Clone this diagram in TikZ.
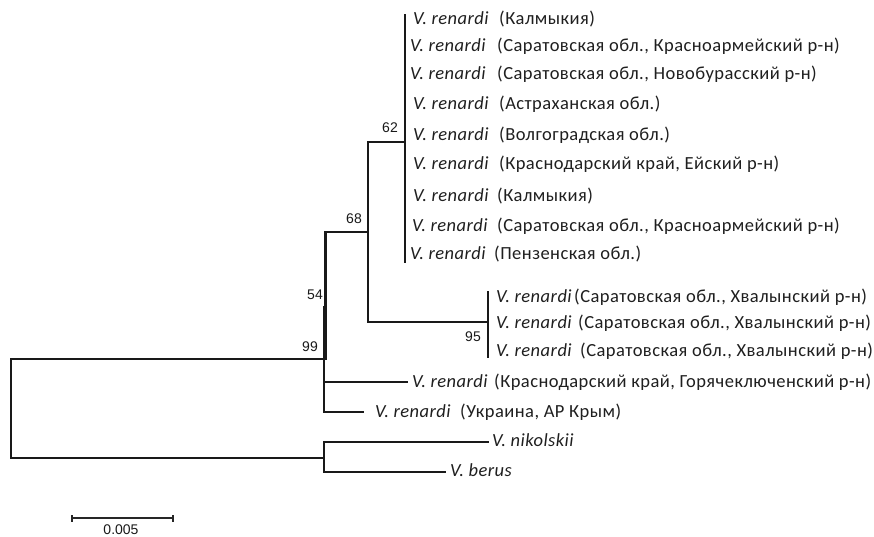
\documentclass[tikz,border=0pt]{standalone}
\usepackage{fontspec}
\setmainfont{Carlito}[LetterSpace=2.5]
\newfontfamily\numfont{Liberation Sans}
\begin{document}
\begin{tikzpicture}[x=1pt,y=-1pt,
  branch/.style={line width=2.7pt,line cap=rect,black!90},
  taxon/.style={anchor=base west,inner sep=0pt,text=black!88,font=\fontsize{18.5}{22}\selectfont},
  boot/.style={inner sep=0pt,text=black!90,font=\numfont\fontsize{14}{16}\selectfont},
  scalebar/.style={line width=1.4pt,black!85}]
\useasboundingbox[fill=white] (0,0) rectangle (874,537);

% leaf labels: id, centre y, x of name, x of locality, locality
\newcommand\leaf[5]{%
  \node[taxon] (#1n) at (#3,#2+5.5) {\itshape V. renardi};
  \node[taxon] (#1p) at (#4,#2+5.5) {(#5)};}
\leaf{a}{19}{413}{499}{Калмыкия}
\leaf{b}{46}{410}{497}{Саратовская обл., Красноармейский р-н}
\leaf{c}{74}{410}{497}{Саратовская обл., Новобурасский р-н}
\leaf{d}{104}{413}{499}{Астраханская обл.}
\leaf{e}{135}{413}{499}{Волгоградская обл.}
\leaf{f}{164}{413}{499}{Краснодарский край, Ейский р-н}
\leaf{g}{196}{413}{497}{Калмыкия}
\leaf{h}{226}{412}{497}{Саратовская обл., Красноармейский р-н}
\leaf{i}{254}{410}{494}{Пензенская обл.}
\leaf{j}{297}{496}{574}{Саратовская обл., Хвалынский р-н}
\leaf{k}{323}{496}{578}{Саратовская обл., Хвалынский р-н}
\leaf{l}{351}{496}{580}{Саратовская обл., Хвалынский р-н}
\leaf{m}{382}{412}{494}{Краснодарский край, Горячеключенский р-н}
\leaf{n}{412}{375}{460}{Украина, АР Крым}
\node[taxon] (nik) at (492,441+5.5) {\itshape V. nikolskii};
\node[taxon] (ber) at (450,471+5.5) {\itshape V. berus};

% internal nodes
\coordinate (R) at (11,408);
\coordinate (A) at (324,359);
\coordinate (Atop) at (324,307);
\coordinate (Abot) at (324,412);
\coordinate (Amid) at (324,382);
\coordinate (B) at (325.5,232);
\coordinate (Bbot) at (325.5,359);
\coordinate (C) at (368,232);
\coordinate (Ctop) at (368,142);
\coordinate (Cbot) at (368,322);
\coordinate (D) at (405,142);
\coordinate (Dtop) at (405,15);
\coordinate (Dbot) at (405,262);
\coordinate (E) at (488,322);
\coordinate (Etop) at (488,292);
\coordinate (Ebot) at (488,357);
\coordinate (F) at (324,458);
\coordinate (Ftop) at (324,442);
\coordinate (Fbot) at (324,472);

% branches
\draw[branch] (A) -- (A -| R) -- (F -| R) -- (F);
\draw[branch] (Atop) -- (Abot);
\draw[branch] (B) -- (Bbot);
\draw[branch] (B) -- (C);
\draw[branch] (Ctop) -- (Cbot);
\draw[branch] (Ctop) -- (D);
\draw[branch] (Dtop) -- (Dbot);
\draw[branch] (Cbot) -- (E);
\draw[branch] (Etop) -- (Ebot);
\draw[branch] (Amid) -- ([xshift=-5pt]mn.west |- Amid);
\draw[branch] (Abot) -- ([xshift=-12pt]nn.west |- Abot);
\draw[branch] (Ftop) -- (Fbot);
\draw[branch] (Ftop) -- ([xshift=-4pt]nik.west |- Ftop);
\draw[branch] (Fbot) -- ([xshift=-5pt]ber.west |- Fbot);

% bootstrap values
\node[boot,anchor=east] (b62) at (398,128) {62};
\node[boot] (b68) at (354,219) {68};
\node[boot,anchor=east] (b54) at (323,295) {54};
\node[boot,anchor=east] (b99) at (318,347) {99};
\node[boot,anchor=east] (b95) at (481,337) {95};

% scale bar
\coordinate (s1) at (72,518);
\coordinate (s2) at (173,518);
\draw[scalebar] (s1) -- (s2);
\draw[scalebar] ([yshift=-3.5pt]s1) -- ([yshift=3.5pt]s1);
\draw[scalebar] ([yshift=-3.5pt]s2) -- ([yshift=3.5pt]s2);
\node[boot] (sl) at (121,530) {0.005};
\end{tikzpicture}
\end{document}
